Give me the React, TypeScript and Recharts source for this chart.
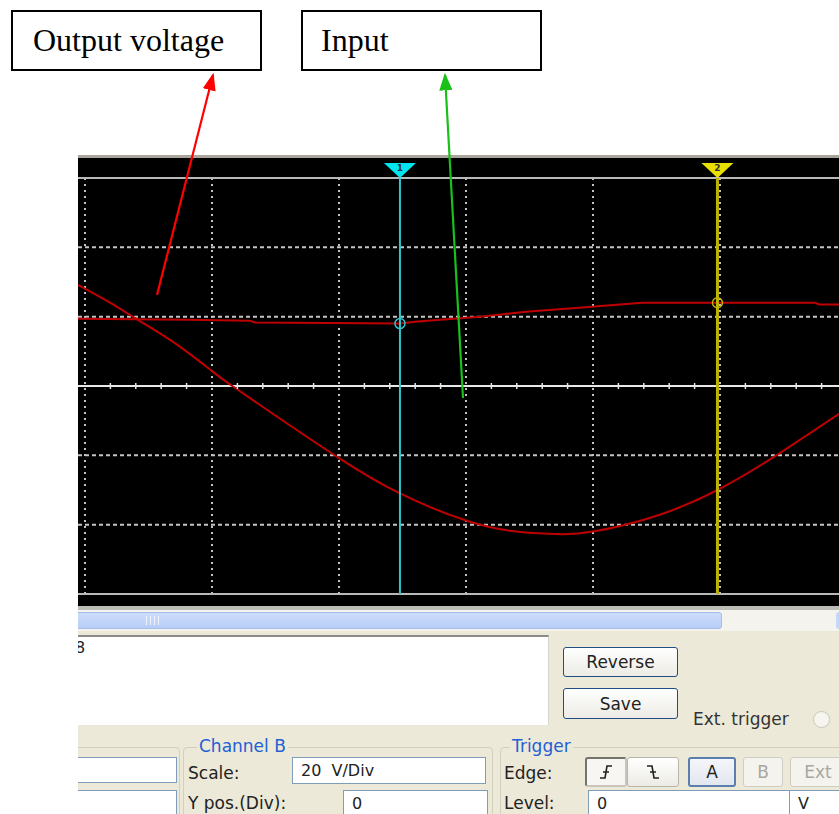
import React from "react";
import {
  ComposedChart, Line, Scatter, XAxis, YAxis,
  ReferenceLine, ReferenceDot,
} from "recharts";

// ── Scope traces (x in divisions, y in volts @ 20 V/Div) ────────────────────
const inputX = [-0.055, 0.2, 0.42, 0.73, 1.01, 1.16, 1.47, 2.0, 2.48, 3.0, 3.38, 3.7, 4.0, 4.52, 4.98, 5.4, 5.937];
const inputV = [29.2, 24.0, 19.0, 11.8, 4.0, 0.0, -7.8, -20.8, -31.0, -38.8, -41.9, -42.7, -42.0, -37.2, -30.0, -21.0, -8.0];

const outputX = [-0.055, 0.81, 1.3, 1.34, 2.48, 2.62, 2.8, 3.11, 3.47, 3.89, 4.21, 4.39, 4.98, 5.75, 5.78, 5.937];
const outputV = [19.4, 19.1, 18.8, 18.3, 18.0, 18.6, 19.1, 20.0, 21.4, 22.6, 23.5, 24.0, 24.0, 24.0, 23.5, 23.5];

// graticule
const gridX = [0, 1, 2, 3, 4, 5];
const gridV = [-40, -20, 20, 40];
const minorTicksX = [
  0.2, 0.4, 0.6, 0.8, 1.2, 1.4, 1.6, 1.8, 2.2, 2.4, 2.6, 2.8,
  3.2, 3.4, 3.6, 3.8, 4.2, 4.4, 4.6, 4.8, 5.2, 5.4, 5.6, 5.8,
];

// cursors: 1 (cyan), 2 (yellow)
const cursorX = [2.48, 4.98];
const cursorV = [18.0, 24.0];

const inputData = inputX.map((x, i) => ({ x, v: inputV[i] }));
const outputData = outputX.map((x, i) => ({ x, v: outputV[i] }));
const tickData = minorTicksX.map((x) => ({ x, v: 0 }));

const TRACE = "#c00000";
const CYAN = "#2ec6d0";
const YELLOW = "#bdb300";
const GRID = "#c4c4c4";
const UI_FONT = "'DejaVu Sans', sans-serif";

// ── Cursor flag drawn above the plot area ───────────────────────────────────
const flag = (color: string, n: string) => (props: any) => {
  const { x, y } = props.viewBox;
  return (
    <g>
      <polygon points={`${x - 16},${y - 15} ${x + 16},${y - 15} ${x},${y}`} fill={color} />
      <text x={x} y={y - 7} fontSize={9} fontWeight={700} fill="#333" textAnchor="middle"
        fontFamily={UI_FONT}>{n}</text>
    </g>
  );
};

const MinorTick = (p: any) => (
  <line x1={p.cx} x2={p.cx} y1={p.cy - 3} y2={p.cy + 3} stroke="#e6e6e6" strokeWidth={1.5} />
);

// ── Scope screen ────────────────────────────────────────────────────────────
const Scope: React.FC = () => (
  <ComposedChart width={761} height={448} margin={{ top: 20, right: 0, bottom: 12, left: 0 }}>
    <XAxis type="number" dataKey="x" domain={[-0.055, 5.937]} ticks={gridX}
      allowDataOverflow height={0} tick={false} axisLine={false} tickLine={false} />
    <YAxis type="number" domain={[-60, 60]} ticks={gridV}
      allowDataOverflow width={0} tick={false} axisLine={false} tickLine={false} />
    {gridX.map((gx) => (
      <ReferenceLine key={`gx${gx}`} x={gx} stroke={GRID} strokeDasharray="2 4" strokeWidth={2} />
    ))}
    {gridV.map((gv) => (
      <ReferenceLine key={`gv${gv}`} y={gv} stroke={GRID} strokeDasharray="4 3" strokeWidth={2} />
    ))}
    <ReferenceLine y={60} stroke="#b9b9b9" strokeWidth={2} />
    <ReferenceLine y={-60} stroke="#b9b9b9" strokeWidth={2} />
    <ReferenceLine y={0} stroke="#e8e8e8" strokeWidth={2} />
    <Scatter data={tickData} dataKey="v" shape={MinorTick} isAnimationActive={false} />
    <Line data={outputData} dataKey="v" type="linear" stroke={TRACE} strokeWidth={2}
      dot={false} isAnimationActive={false} />
    <Line data={inputData} dataKey="v" type="natural" stroke={TRACE} strokeWidth={2}
      dot={false} isAnimationActive={false} />
    <ReferenceLine x={cursorX[0]} stroke={CYAN} strokeWidth={2} label={flag("#00e6f0", "1")} />
    <ReferenceLine x={cursorX[1]} stroke={YELLOW} strokeWidth={3} label={flag("#e8e000", "2")} />
    <ReferenceDot x={cursorX[0]} y={cursorV[0]} r={5} fill="none" stroke={CYAN} strokeWidth={1.5} />
    <ReferenceDot x={cursorX[1]} y={cursorV[1]} r={5} fill="none" stroke={YELLOW} strokeWidth={1.5} />
  </ComposedChart>
);

// ── UI helpers ──────────────────────────────────────────────────────────────
const abs = (left: number, top: number, width?: number, height?: number): React.CSSProperties => ({
  position: "absolute", left, top, width, height, boxSizing: "border-box",
});

const label = (left: number, top: number, text: string, extra: React.CSSProperties = {}) => (
  <div style={{ ...abs(left, top), fontFamily: UI_FONT, fontSize: 17, color: "#222", whiteSpace: "pre", ...extra }}>
    {text}
  </div>
);

const field = (left: number, top: number, width: number, height: number, text = "") => (
  <div style={{
    ...abs(left, top, width, height), background: "#fff", border: "1px solid #7f9db9",
    fontFamily: UI_FONT, fontSize: 16, color: "#222", padding: "3px 8px", whiteSpace: "pre",
  }}>{text}</div>
);

const button = (left: number, top: number, width: number, height: number, text: React.ReactNode,
  opts: { border?: string; color?: string; bg?: string } = {}) => (
  <div style={{
    ...abs(left, top, width, height),
    border: opts.border ?? "1px solid #1f4f82", borderRadius: 3,
    background: opts.bg ?? "linear-gradient(#ffffff, #ecebe4)",
    display: "flex", alignItems: "center", justifyContent: "center",
    fontFamily: UI_FONT, fontSize: 17, color: opts.color ?? "#222",
  }}>{text}</div>
);

const group = (left: number, top: number, width: number, title: string, titleLeft: number) => (
  <>
    <div style={{ ...abs(left, top, width, 90), border: "1px solid #d0d0bf", borderRadius: 4 }} />
    {title && label(titleLeft, top - 11, title, { color: "#2160d6", background: "#ece9d8", padding: "0 2px" })}
  </>
);

const EdgeGlyph: React.FC<{ falling?: boolean }> = ({ falling }) => (
  <svg width={14} height={16} style={{ transform: falling ? "scaleX(-1)" : undefined }}>
    <path d="M1 14 H6 L8 2 H13 M4 8 H10" stroke="#222" strokeWidth={1.6} fill="none" />
  </svg>
);

// ── App ─────────────────────────────────────────────────────────────────────
export default function App() {
  return (
    <div style={{ position: "absolute", left: 0, top: 0, width: 839, height: 814, background: "#fff", overflow: "hidden" }}>
      {/* ── annotation boxes ── */}
      <div style={{ ...abs(11, 10, 251, 61), border: "2px solid #000" }} />
      <div style={{ ...abs(33, 22), fontFamily: "'Liberation Serif', serif", fontSize: 32, color: "#000" }}>
        Output voltage
      </div>
      <div style={{ ...abs(301, 10, 241, 61), border: "2px solid #000" }} />
      <div style={{ ...abs(321, 22), fontFamily: "'Liberation Serif', serif", fontSize: 32, color: "#000" }}>
        Input
      </div>

      {/* ── screenshot, clipped at x = 78 ── */}
      <div style={{ position: "absolute", left: 0, top: 0, width: 839, height: 814, clipPath: "inset(150px 0 0 78px)" }}>
        <div style={{ ...abs(78, 155, 761, 3), background: "#a9a59c" }} />
        <div style={{ ...abs(78, 158, 761, 448), background: "#000" }}>
          <Scope />
        </div>
        <div style={{ ...abs(78, 606, 761, 4), background: "#bdbdb8" }} />

        {/* scrollbar */}
        <div style={{ ...abs(78, 610, 761, 21), background: "#f4f3ee" }} />
        <div style={{
          ...abs(70, 612, 652, 17), borderRadius: 3, border: "1px solid #a4bde9",
          background: "linear-gradient(#cddcfc, #b7cdf7)",
        }} />
        {[146, 150, 154, 158].map((x) => (
          <div key={x} style={{ ...abs(x, 616, 1, 9), background: "#eef3ff" }} />
        ))}
        <div style={{ ...abs(836, 612, 10, 17), borderRadius: 3, background: "#c6d7fb" }} />

        {/* control panel */}
        <div style={{ ...abs(78, 631, 761, 183), background: "#ece9d8" }} />
        <div style={{ ...abs(40, 635, 509, 90), background: "#fff", borderTop: "2px solid #8a8a86", borderRight: "1px solid #d8d6cc" }} />
        {label(75, 638, "8", { fontSize: 16 })}

        {button(563, 647, 115, 30, "Reverse")}
        {button(563, 688, 115, 31, "Save")}
        {label(693, 709, "Ext. trigger", { color: "#333" })}
        <div style={{ ...abs(813, 711, 17, 17), borderRadius: "50%", border: "1px solid #c8c6b8", background: "#f6f5f0" }} />

        {/* channel A (cut off) */}
        {group(20, 747, 160, "", 0)}
        {field(40, 757, 137, 26)}
        {field(40, 790, 137, 30)}

        {/* channel B */}
        {group(183, 747, 310, "Channel B", 197)}
        {label(188, 763, "Scale:")}
        {label(188, 793, "Y pos.(Div):")}
        {field(292, 757, 194, 27, "20  V/Div")}
        {field(343, 790, 145, 30, "0")}

        {/* trigger */}
        {group(500, 747, 400, "Trigger", 510)}
        {label(504, 763, "Edge:")}
        {label(504, 793, "Level:")}
        {button(585, 757, 42, 30, <EdgeGlyph />, { border: "2px inset #c8c6bc", bg: "#f7f6f2" })}
        {button(627, 757, 52, 30, <EdgeGlyph falling />, { border: "1px solid #b8b6aa", bg: "linear-gradient(#ffffff, #ecebe4)" })}
        {button(688, 757, 48, 30, "A", { border: "2px solid #5a7fae", bg: "linear-gradient(#f4f6fa, #e2e6ee)" })}
        {button(743, 757, 40, 30, "B", { border: "1px solid #cfcdc2", color: "#a8a8a0", bg: "#f4f3ee" })}
        {button(790, 757, 56, 30, "Ext", { border: "1px solid #cfcdc2", color: "#a8a8a0", bg: "#f4f3ee" })}
        {field(588, 790, 202, 30, "0")}
        {field(789, 790, 60, 30, "V")}
      </div>

      {/* ── arrows ── */}
      <svg width={839} height={814} style={{ position: "absolute", left: 0, top: 0, pointerEvents: "none" }}>
        <defs>
          <marker id="headR" markerWidth="8" markerHeight="6" refX="7" refY="3" orient="auto" markerUnits="strokeWidth">
            <path d="M0,0 L8,3 L0,6 Z" fill="#ff0000" />
          </marker>
          <marker id="headG" markerWidth="8" markerHeight="6" refX="7" refY="3" orient="auto" markerUnits="strokeWidth">
            <path d="M0,0 L8,3 L0,6 Z" fill="#18c018" />
          </marker>
        </defs>
        <line x1={157} y1={295} x2={213} y2={75} stroke="#ff0000" strokeWidth={2.2} markerEnd="url(#headR)" />
        <line x1={463} y1={398} x2={445} y2={75} stroke="#18c018" strokeWidth={2.2} markerEnd="url(#headG)" />
      </svg>
    </div>
  );
}
